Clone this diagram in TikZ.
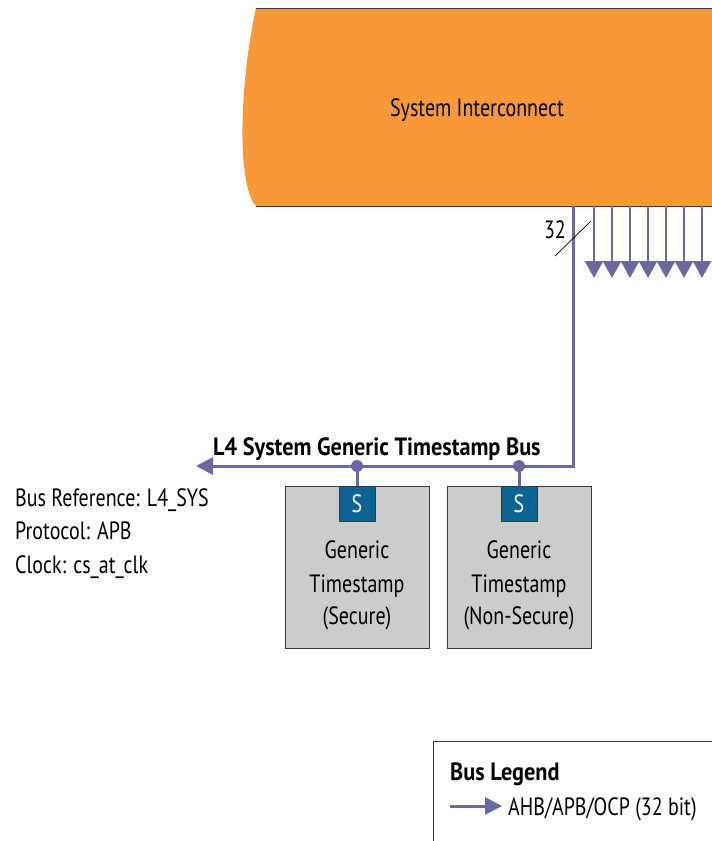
\documentclass[tikz,border=0pt]{standalone}
\usepackage{fontspec}
\setmainfont[FakeStretch=0.8, BoldFeatures={FakeStretch=0.89}]{PT Sans}
\usetikzlibrary{arrows.meta}
\definecolor{orng}{HTML}{F7993A}
\definecolor{bus}{HTML}{6B68A0}
\definecolor{sblue}{HTML}{0E6395}
\definecolor{gbox}{HTML}{CCCCCC}
\definecolor{edge}{HTML}{3A3A3A}
\tikzset{
  txt/.style={font=\fontsize{25}{25}\selectfont, inner sep=0pt, anchor=base},
  btxt/.style={font=\fontsize{25}{25}\selectfont\bfseries, inner sep=0pt, anchor=base},
  busline/.style={draw=bus, line width=3pt},
  downarrow/.style={draw=bus, line width=2.8pt, -{Triangle[width=18pt,length=17pt]}, fill=bus},
  gbx/.style={draw=edge, fill=gbox, line width=0.8pt},
  sbx/.style={draw=edge, fill=sblue, line width=0.8pt, minimum width=36pt, minimum height=35pt, inner sep=0pt, anchor=north, text=white, font=\fontsize{25}{25}\selectfont},
  dot/.style={circle, fill=bus, minimum size=12pt, inner sep=0pt}
}
\begin{document}
\begin{tikzpicture}[x=1pt,y=-1pt]
\useasboundingbox (0,0) rectangle (712,841);
% System interconnect
\fill[orng] (712,8) -- (256,8) .. controls (240,80) and (236,185) .. (256,206) -- (712,206) -- cycle;
\draw[edge, line width=0.8pt] (256,8) -- (712,8);
\draw[edge, line width=0.8pt] (256,206) -- (712,206);
\node[txt] (sys) at (477,116) {System Interconnect};
% down arrows
\foreach \i/\x in {1/594,2/612,3/630,4/648,5/666,6/684,7/702}{
  \coordinate (s\i) at (\x,206);
  \coordinate (e\i) at (\x,278);
  \draw[downarrow] (s\i) -- (e\i);
}
% bus
\coordinate (bt) at (573,206);
\coordinate (bc) at (573,466);
\coordinate (bl) at (196,466);
\draw[busline, -{Triangle[width=17pt,length=17pt]}] (bt) -- (bc) -- (bl);
\coordinate (sl1) at (555,256);
\coordinate (sl2) at (591,221);
\draw[black, line width=0.7pt] (sl1) -- (sl2);
\node[txt, anchor=base east] (w32) at (566,238) {32};
\node[btxt, anchor=base west] (buslbl) at (213,455) {L4 System Generic Timestamp Bus};
% boxes
\draw[gbx] (285,486) rectangle (429,648);
\draw[gbx] (447,486) rectangle (591,648);
\node[sbx] (S1) at (357,486) {S};
\node[sbx] (S2) at (519,486) {S};
\node[dot] (d1) at (357,466) {};
\node[dot] (d2) at (519,466) {};
\draw[busline] (d1) -- (S1.north);
\draw[busline] (d2) -- (S2.north);
\node[txt] (g1a) at (357,558) {Generic};
\node[txt] (g1b) at (357,592) {Timestamp};
\node[txt] (g1c) at (357,624) {(Secure)};
\node[txt] (g2a) at (519,558) {Generic};
\node[txt] (g2b) at (519,592) {Timestamp};
\node[txt] (g2c) at (519,624) {(Non-Secure)};
% left info
\node[txt, anchor=base west] (i1) at (15,506) {Bus Reference: L4\_SYS};
\node[txt, anchor=base west] (i2) at (15,539) {Protocol: APB};
\node[txt, anchor=base west] (i3) at (15,573) {Clock: cs\_at\_clk};
% legend
\draw[edge, line width=0.8pt] (433,841) -- (433,741) -- (712,741);
\node[btxt, anchor=base west] (lg) at (450,780) {Bus Legend};
\coordinate (la) at (450,806);
\coordinate (lb) at (502,806);
\draw[busline, -{Triangle[width=17pt,length=17pt]}] (la) -- (lb);
\node[txt, anchor=base west] (lt) at (508,815) {AHB/APB/OCP (32 bit)};
\end{tikzpicture}
\end{document}
